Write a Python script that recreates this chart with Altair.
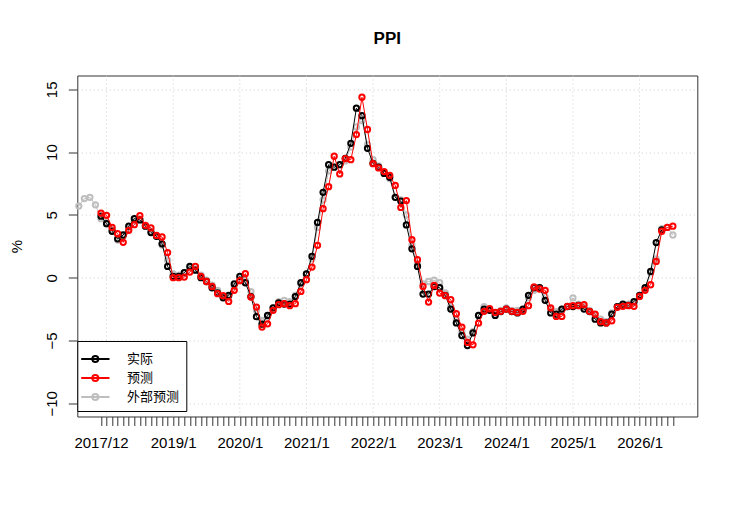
import altair as alt
import pandas as pd

# ---------------- data (month index: 0 = 2017/12) ----------------
label_months = [0, 13, 25, 37, 49, 61, 73, 85, 97]
month_labels = ["2017/12", "2019/1", "2020/1", "2021/1", "2022/1",
                "2023/1", "2024/1", "2025/1", "2026/1"]
grid_months = [1, 13, 25, 37, 49, 61, 73, 85, 97]
tick_months = list(range(0, 104))
y_ticks = [-10, -5, 0, 5, 10, 15]

series_names = ["实际", "预测", "外部预测"]
series_colors = ["#000000", "#ff0000", "#bebebe"]

actual_start = 0
actual_values = [
    4.9,
    4.3, 3.7, 3.1, 3.4, 4.1, 4.7, 4.6, 4.1, 3.6, 3.3, 2.7, 0.9,
    0.1, 0.1, 0.4, 0.9, 0.6, 0.0, -0.3, -0.8, -1.2, -1.6, -1.4, -0.5,
    0.1, -0.4, -1.5, -3.1, -3.7, -3.0, -2.4, -2.0, -2.1, -2.1, -1.5, -0.4,
    0.3, 1.7, 4.4, 6.8, 9.0, 8.8, 9.0, 9.5, 10.7, 13.5, 12.9, 10.3,
    9.1, 8.8, 8.3, 8.0, 6.4, 6.1, 4.2, 2.3, 0.9, -1.3, -1.3, -0.7,
    -0.8, -1.4, -2.5, -3.6, -4.6, -5.4, -4.4, -3.0, -2.5, -2.6, -3.0, -2.7,
    -2.5, -2.7, -2.8, -2.5, -1.4, -0.8, -0.8, -1.8, -2.8, -2.9, -2.5, -2.3,
    -2.3, -2.2, -2.5, -2.7, -3.3, -3.6, -3.6, -2.9, -2.3, -2.1, -2.2, -1.9,
    -1.4, -0.8, 0.5, 2.8, 3.8,
]

forecast_start = 0
forecast_values = [
    5.15, 4.97, 4.0, 3.5, 2.82, 3.77, 4.22, 4.94, 4.17, 3.96, 3.37, 3.24, 2.0,
    0.0, 0.0, 0.05, 0.45, 0.9, 0.1, -0.3, -0.69, -1.27, -1.43, -1.89, -1.0,
    -0.24, 0.32, -1.54, -2.34, -3.93, -3.67, -2.6, -2.15, -2.07, -2.23, -2.07, -1.09,
    -0.16, 0.85, 2.58, 5.5, 7.25, 9.67, 8.26, 9.48, 9.4, 11.4, 14.37, 11.8,
    9.08, 8.74, 8.45, 8.15, 7.35, 5.6, 6.14, 3.03, 1.43, -0.69, -1.94, -0.61,
    -1.22, -1.43, -1.75, -2.87, -3.93, -5.15, -5.34, -3.61, -2.68, -2.47, -2.76, -2.68,
    -2.5, -2.68, -2.76, -2.68, -2.23, -0.74, -0.9, -1.0, -2.4, -3.08, -3.08, -2.28,
    -2.23, -2.23, -2.15, -2.68, -2.9, -3.5, -3.6, -3.43, -2.36, -2.28, -2.23, -2.28,
    -1.49, -1.0, -0.56, 1.3, 3.7, 4.0, 4.1,
]

external_start = -4
external_values = [
    5.7, 6.3, 6.4, 5.8,
    4.7, 4.4, 3.8, 3.0, 3.3, 3.9, 4.5, 4.6, 4.1, 3.7, 3.3, 2.6, 1.4,
    0.3, 0.2, 0.4, 0.8, 0.7, 0.2, -0.2, -0.6, -1.0, -1.5, -1.5, -0.7,
    -0.1, -0.2, -1.1, -2.6, -3.4, -3.1, -2.4, -1.9, -1.8, -1.9, -1.4, -0.5,
    0.3, 1.5, 4.0, 6.2, 8.5, 8.8, 9.0, 9.3, 10.4, 12.0, 12.5, 10.6,
    9.4, 8.9, 8.3, 7.9, 6.4, 6.2, 5.0, 2.6, 1.1, -0.5, -0.3, -0.2,
    -0.4, -1.2, -2.3, -3.3, -4.3, -4.9, -4.3, -3.0, -2.3, -2.5, -2.8, -2.6,
    -2.4, -2.6, -2.6, -2.6, -1.6, -1.0, -0.8, -1.5, -2.5, -2.7, -2.6, -2.3,
    -1.6, -2.1, -2.3, -2.6, -3.0, -3.3, -3.5, -2.8, -2.3, -2.2, -2.1, -2.0,
    -1.5, -0.9, 0.4, 1.5, 3.9, 4.0, 3.4,
]

# ---------------- table ----------------
rows = []
for name, start, vals in [("实际", actual_start, actual_values),
                          ("预测", forecast_start, forecast_values),
                          ("外部预测", external_start, external_values)]:
    for i, v in enumerate(vals):
        rows.append({"m": start + i, "v": v, "s": name})
df = pd.DataFrame(rows)

label_expr = "''"
for pos, lab in reversed(list(zip(label_months, month_labels))):
    label_expr = f"datum.value == {pos} ? '{lab}' : ({label_expr})"

FONT = "Liberation Sans"

x_scale = alt.Scale(domain=[-4.27, 107.4], nice=False, zero=False)
y_scale = alt.Scale(domain=[-11.05, 16.1], nice=False, zero=False)
color_scale = alt.Scale(domain=series_names, range=series_colors)

x_axis = alt.Axis(values=tick_months, labelExpr=label_expr, grid=False, domain=False,
                  tickSize=9, tickColor="#333333", labelFont=FONT, labelFontSize=15,
                  labelColor="black", labelPadding=10, labelOverlap=False,
                  labelFlush=False, labelBound=False, title=None)
y_axis = alt.Axis(values=y_ticks, grid=True, gridDash=[1, 3], gridColor="#cfcfcf",
                  domain=False, tickSize=9, tickColor="#333333",
                  labelAngle=270, labelAlign="center", labelBaseline="middle",
                  labelPadding=17, labelFont=FONT, labelFontSize=15, labelColor="black",
                  title="%", titleAngle=270, titleX=-61, titleY=170.6,
                  titleAlign="center", titleBaseline="middle",
                  titleFont=FONT, titleFontSize=15, titleFontWeight="normal",
                  titleColor="black")

legend_symbol = ("M-1.41,0L1.42,0M-0.3,0A0.3,0.3,0,1,0,0.3,0"
                 "A0.3,0.3,0,1,0,-0.3,0")
legend = alt.Legend(title=None, orient="none", legendX=0, legendY=265.5,
                    direction="vertical", symbolType=legend_symbol, symbolSize=400,
                    symbolStrokeWidth=2, symbolFillColor="transparent",
                    labelFont="Noto Sans CJK SC", labelFontSize=13, labelColor="black",
                    labelOffset=20.7, padding=7, rowPadding=1,
                    strokeColor="#000000", fillColor="#ffffff")

grid_df = pd.DataFrame({"m": grid_months})
grid_layer = alt.Chart(grid_df).mark_rule(color="#cfcfcf", strokeDash=[1, 3],
                                          strokeWidth=1).encode(
    x=alt.X("m:Q", scale=x_scale, axis=x_axis)
)

layers = [grid_layer]
for name in ["外部预测", "实际", "预测"]:
    base = alt.Chart(df).transform_filter(alt.datum.s == name)
    enc = dict(
        x=alt.X("m:Q", scale=x_scale, axis=x_axis),
        y=alt.Y("v:Q", scale=y_scale, axis=y_axis),
        color=alt.Color("s:N", scale=color_scale, legend=legend),
    )
    layers.append(base.mark_line(strokeWidth=1).encode(**enc))
    layers.append(base.mark_point(shape="circle", filled=False, size=28,
                                  strokeWidth=2, opacity=1).encode(**enc))

chart = alt.layer(*layers).properties(
    width=620,
    height=341,
    title=alt.TitleParams("PPI", font=FONT, fontSize=17, fontWeight="bold",
                          color="black", anchor="middle", frame="group", offset=27),
    autosize=alt.AutoSizeParams(type="none"),
    padding={"left": 69.3, "top": 67.5, "right": 30, "bottom": 85},
    background="white",
).configure_view(stroke="#333333", strokeWidth=1)

chart.save("out.html", embed_options={"renderer": "svg", "actions": False})
